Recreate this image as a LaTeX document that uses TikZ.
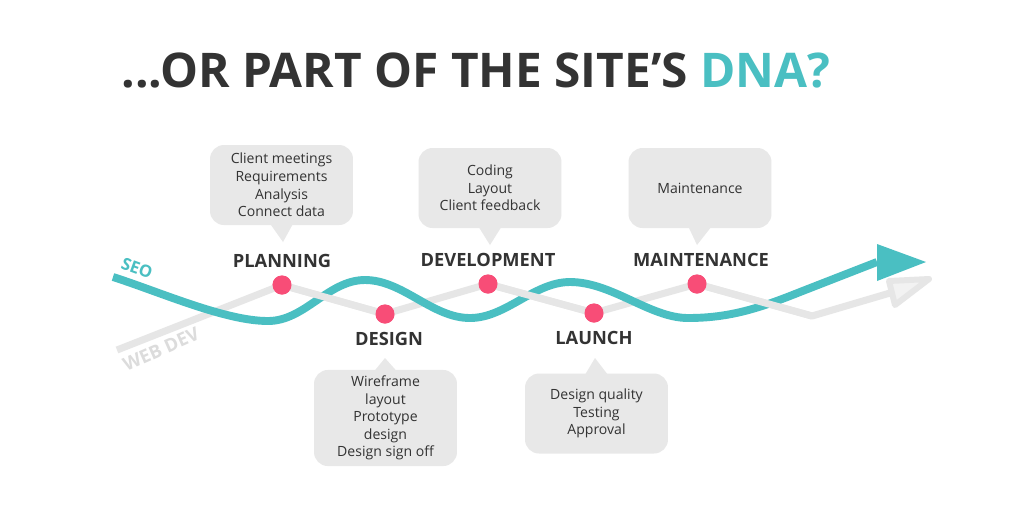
\documentclass[tikz,border=0pt]{standalone}
\usepackage{fontspec}
\setmainfont{Open Sans}
\usetikzlibrary{positioning}
\definecolor{seoteal}{HTML}{4ABFC2}
\definecolor{devgray}{HTML}{E6E6E6}
\definecolor{headgray}{HTML}{F2F2F2}
\definecolor{wordgray}{HTML}{DCDCDC}
\definecolor{dotpink}{HTML}{F84D77}
\definecolor{bubblegray}{HTML}{E8E8E8}
\definecolor{textdark}{HTML}{333333}

\begin{document}
\begin{tikzpicture}[x=0.02cm, y=-0.02cm]
    \tikzset{
        stage/.style = {circle, fill=dotpink, minimum size=0.38cm, inner sep=0pt},
        stagelabel/.style = {font=\bfseries\fontsize{10.4}{12}\selectfont, text=textdark},
        bubble/.style = {rectangle, rounded corners=0.28cm, fill=bubblegray, text=textdark, minimum width=2.86cm, minimum height=1.6cm, align=center, font=\fontsize{8}{10}\selectfont},
        devline/.style = {devgray, line width=4pt, line join=round},
        seoline/.style = {seoteal, line width=4.5pt},
    }
    \fill [white] (0,0) rectangle (1024,512);
    \useasboundingbox (0,0) rectangle (1024,512);

    % title
    \node (title) [font=\bfseries\fontsize{27.2}{32}\selectfont, text=textdark] at (476,70) {...OR PART OF THE SITE'S \textcolor{seoteal}{DNA?}};

    % stages
    \node (plan) [stage] at (282,285) {};
    \node (design) [stage] at (385,314) {};
    \node (dev) [stage] at (488,284) {};
    \node (launch) [stage] at (594,313) {};
    \node (maint) [stage] at (697,284) {};

    \coordinate (web_start) at (117,350);
    \coordinate (web_kink) at (812,316);
    \coordinate (web_end) at (890,293);
    \coordinate (seo_start) at (113,277);
    \coordinate (seo_end) at (877,262);

    % web dev line
    \draw [devline] (web_start) -- (plan.center) -- (design.center) -- (dev.center) -- (launch.center) -- (maint.center) -- (web_kink) -- (web_end);
    \draw [devgray, line width=3.4pt, fill=headgray, line join=round] (889,281) -- (929,279) -- (895,305) -- cycle;

    % seo line
    \draw [seoline] (seo_start) .. controls (160,292) and (225,321) .. (268,321)
        .. controls (305,321) and (328,280) .. (365,280)
        .. controls (403,280) and (432,318) .. (470,318)
        .. controls (506,318) and (534,282) .. (570,282)
        .. controls (612,282) and (650,318) .. (688,318)
        .. controls (730,318) and (760,308) .. (800,292) -- (seo_end);
    \fill [seoteal] (877,244) -- (926,262) -- (877,281) -- cycle;

    % web dev over seo where it goes down
    \draw [devline] (plan.center) -- (design.center);
    \draw [devline] (dev.center) -- (launch.center);
    \draw [devline] (maint.center) -- (web_kink);

    % dots again on top
    \foreach \s in {plan, design, dev, launch, maint}
        \fill [dotpink] (\s) circle (0.19cm);

    \node (seo_lbl) [font=\bfseries\fontsize{9.5}{11}\selectfont, text=seoteal, rotate=-20] at (137,268) {SEO};
    \node (web_lbl) [font=\bfseries\fontsize{10.5}{12}\selectfont, text=wordgray, rotate=24, inner sep=0pt] at (161,349) {WEB DEV};

    % labels
    \node (plan_lbl) [stagelabel, above=0.02cm of plan] {PLANNING};
    \node (design_lbl) [stagelabel, below=0.04cm of design, xshift=0.08cm] {DESIGN};
    \node (dev_lbl) [stagelabel, above=0.02cm of dev] {DEVELOPMENT};
    \node (launch_lbl) [stagelabel, below=0.04cm of launch] {LAUNCH};
    \node (maint_lbl) [stagelabel, above=0.02cm of maint, xshift=0.08cm] {MAINTENANCE};

    % bubbles
    \node (plan_box) [bubble] at (281.5,185) {Client meetings\\Requirements\\Analysis\\Connect data};
    \node (dev_box) [bubble] at (490,188) {Coding\\Layout\\Client feedback};
    \node (maint_box) [bubble] at (700,188) {Maintenance};
    \node (design_box) [bubble, minimum height=1.76cm] at (385.5,418) {Wireframe\\layout\\Prototype\\design\\Design sign off};
    \node (launch_box) [bubble] at (596.5,413.5) {Design quality\\Testing\\Approval};

    \coordinate (plan_tip) at (283,242);
    \coordinate (dev_tip) at (490,245);
    \coordinate (maint_tip) at (697,245);
    \coordinate (design_tip) at (385,358);
    \coordinate (launch_tip) at (595,358);
    \fill [bubblegray] ([xshift=-0.24cm, yshift=0.05cm]plan_box.south) -- (plan_tip) -- ([xshift=0.24cm, yshift=0.05cm]plan_box.south) -- cycle;
    \fill [bubblegray] ([xshift=-0.24cm, yshift=0.05cm]dev_box.south) -- (dev_tip) -- ([xshift=0.24cm, yshift=0.05cm]dev_box.south) -- cycle;
    \fill [bubblegray] ([xshift=-0.24cm, yshift=0.05cm]maint_box.south) -- (maint_tip) -- ([xshift=0.24cm, yshift=0.05cm]maint_box.south) -- cycle;
    \fill [bubblegray] ([xshift=-0.24cm, yshift=-0.05cm]design_box.north) -- (design_tip) -- ([xshift=0.24cm, yshift=-0.05cm]design_box.north) -- cycle;
    \fill [bubblegray] ([xshift=-0.24cm, yshift=-0.05cm]launch_box.north) -- (launch_tip) -- ([xshift=0.24cm, yshift=-0.05cm]launch_box.north) -- cycle;
\end{tikzpicture}
\end{document}
